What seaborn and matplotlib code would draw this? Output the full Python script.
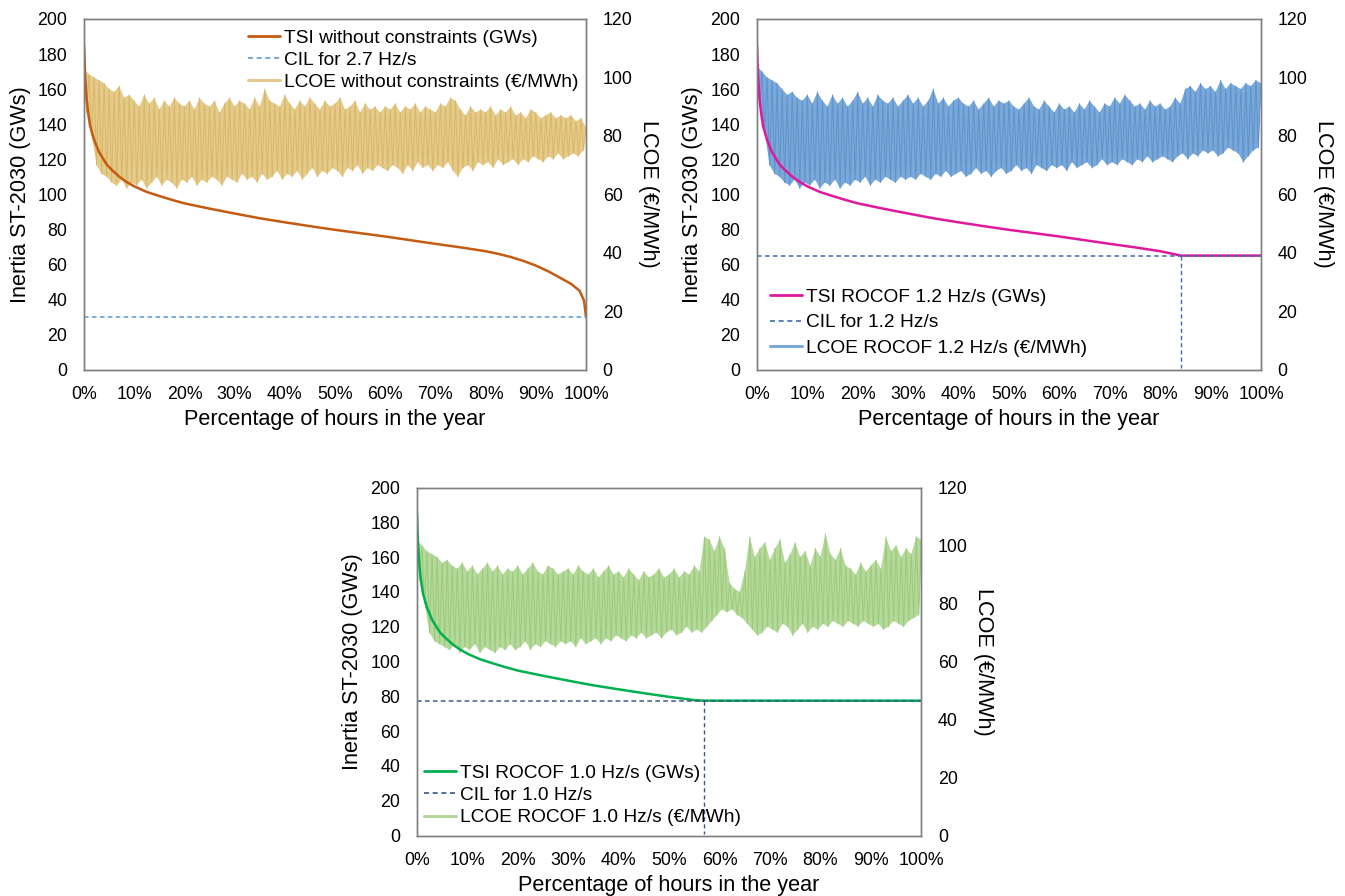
import matplotlib
matplotlib.use("Agg")
import matplotlib.pyplot as plt
from matplotlib.lines import Line2D
from matplotlib.ticker import FuncFormatter, MultipleLocator
import seaborn as sns

# ---------------- data ----------------
# TSI duration curves (GWs), x in % of hours
pct_tsi1 = [0, 0.2, 0.5, 0.8, 1.2, 2, 3, 4.5, 5.5, 7.2, 8.5, 10, 12.5, 15, 17.5, 20, 25, 30, 35, 40,
            45, 50, 55, 60, 65, 70, 75, 77.5, 80, 82.5, 85, 87.5, 90, 92.5, 94.6, 97, 98.7, 99.6, 100]
tsi1 = [185, 168, 155, 147, 139, 131, 124, 117, 114, 109.6, 107, 104.5, 101.3, 99, 96.8, 94.8, 91.8, 89, 86.3, 84,
        81.8, 79.7, 77.8, 75.9, 73.8, 71.7, 69.7, 68.6, 67.5, 66, 64.2, 62, 59.3, 56, 52.7, 48.9, 45, 39.4, 30]

pct_tsi2 = [0, 0.2, 0.5, 0.8, 1.2, 2, 3, 4.5, 5.5, 7.2, 8.5, 10, 12.5, 15, 17.5, 20, 25, 30, 35, 40,
            45, 50, 55, 60, 65, 70, 75, 77.5, 80, 82.5, 84.1, 100]
tsi2 = [185, 168, 155, 147, 139, 131, 124, 117, 114, 109.6, 107, 104.5, 101.3, 99, 96.8, 94.8, 91.8, 89, 86.3, 84,
        81.8, 79.7, 77.8, 75.9, 73.8, 71.7, 69.7, 68.6, 67.5, 66, 65, 65]

pct_tsi3 = [0, 0.2, 0.5, 0.8, 1.2, 2, 3, 4.5, 5.5, 7.2, 8.5, 10, 12.5, 15, 17.5, 20, 25, 30, 35, 40,
            45, 50, 55, 56.9, 100]
tsi3 = [185, 168, 155, 147, 139, 131, 124, 117, 114, 109.6, 107, 104.5, 101.3, 99, 96.8, 94.8, 91.8, 89, 86.3, 84,
        81.8, 79.7, 77.8, 77.5, 77.5]

# critical inertia levels (GWs) and where the TSI hits them (%)
cil1, cil2, cil3 = 30, 65, 77.5
cil2_hit, cil3_hit = 84.1, 56.9

# LCOE (EUR/MWh): peaks at each whole %, troughs half-way between
pct_hi = list(range(0, 101))
pct_lo = [i + 0.5 for i in range(100)]

lcoe1_hi = [103, 101, 100, 99, 98, 96, 95, 97, 93, 94,
            92, 90, 94, 91, 93, 89, 92, 90, 93, 91,
            90, 92, 89, 93, 91, 90, 92, 88, 91, 93,
            90, 92, 91, 89, 93, 90, 96, 92, 91, 90,
            94, 91, 89, 92, 90, 93, 91, 89, 92, 90,
            91, 93, 89, 90, 92, 88, 91, 89, 90, 88,
            90, 89, 91, 88, 90, 89, 91, 88, 90, 89,
            88, 91, 90, 93, 92, 89, 87, 90, 88, 89,
            88, 90, 87, 89, 88, 90, 87, 88, 86, 89,
            88, 86, 87, 88, 86, 87, 86, 87, 85, 86,
            83]
lcoe1_lo = [88, 80, 70, 67, 66, 64, 63, 65, 62, 64,
            63, 65, 62, 64, 66, 63, 65, 64, 62, 65,
            64, 66, 63, 65, 64, 66, 65, 63, 66, 65,
            64, 67, 65, 66, 64, 67, 65, 66, 68, 65,
            67, 66, 68, 65, 67, 69, 66, 68, 67, 69,
            68, 66, 69, 68, 70, 67, 69, 68, 70, 69,
            68, 70, 69, 67, 70, 68, 71, 69, 70, 68,
            70, 69, 71, 68, 66, 69, 70, 68, 71, 70,
            71, 69, 72, 70, 71, 72, 70, 72, 71, 73,
            72, 71, 73, 72, 74, 72, 73, 74, 73, 75]

lcoe2_hi = [104, 102, 100, 99, 98, 96, 94, 95, 93, 92,
            94, 91, 95, 92, 90, 94, 91, 93, 90, 92,
            95, 91, 93, 90, 94, 92, 91, 93, 90, 92,
            94, 91, 93, 90, 92, 96, 91, 93, 90, 92,
            93, 91, 90, 92, 89, 91, 93, 90, 92, 91,
            92, 90, 89, 91, 93, 90, 89, 92, 90, 88,
            91, 89, 90, 88, 91, 89, 92, 90, 88, 91,
            90, 93, 91, 94, 92, 90, 91, 89, 92, 90,
            91, 89, 90, 93, 91, 96, 97, 95, 98, 96,
            97, 95, 99, 96, 98, 97, 96, 98, 97, 99,
            98]
lcoe2_lo = [90, 82, 70, 67, 66, 64, 63, 65, 62, 64,
            63, 65, 62, 64, 63, 65, 62, 64, 63, 65,
            64, 66, 63, 65, 64, 66, 65, 64, 66, 65,
            66, 65, 67, 66, 65, 67, 66, 68, 66, 67,
            68, 66, 67, 69, 67, 68, 66, 68, 69, 67,
            68, 70, 68, 69, 67, 70, 69, 68, 70, 69,
            70, 68, 71, 69, 70, 71, 69, 70, 72, 70,
            71, 70, 72, 71, 70, 72, 71, 73, 71, 72,
            73, 72, 71, 73, 74, 72, 74, 73, 75, 74,
            75, 73, 74, 76, 75, 74, 71, 73, 75, 76]

lcoe3_hi = [102, 100, 98, 97, 96, 94, 95, 93, 92, 94,
            91, 93, 90, 92, 94, 91, 93, 90, 92, 91,
            93, 90, 92, 94, 91, 90, 93, 92, 90, 91,
            92, 90, 93, 91, 90, 92, 89, 91, 93, 90,
            91, 89, 92, 90, 88, 91, 89, 90, 92, 89,
            90, 92, 89, 91, 90, 93, 91, 103, 102, 98,
            103, 99, 87, 85, 84, 91, 103, 96, 99, 101,
            95, 99, 102, 94, 97, 101, 96, 98, 93, 99,
            96, 104, 97, 95, 99, 93, 92, 90, 94, 91,
            93, 95, 92, 103, 98, 100, 96, 99, 97, 103,
            102]
lcoe3_lo = [88, 80, 70, 67, 66, 65, 64, 66, 63, 65,
            64, 66, 63, 65, 64, 63, 65, 64, 66, 64,
            65, 67, 64, 66, 65, 67, 66, 65, 67, 66,
            67, 65, 68, 66, 67, 68, 66, 68, 67, 69,
            68, 67, 69, 68, 70, 68, 69, 70, 68, 70,
            71, 69, 70, 72, 70, 71, 70, 72, 74, 76,
            78, 77, 78, 76, 75, 73, 71, 69, 70, 72,
            71, 70, 73, 72, 69, 71, 73, 70, 72, 71,
            73, 72, 74, 73, 72, 74, 73, 72, 74, 73,
            72, 73, 71, 72, 74, 73, 72, 74, 75, 76]

# ---------------- style ----------------
sns.set_theme(style="white")
plt.rcParams["font.family"] = ["Liberation Sans", "DejaVu Sans"]
plt.rcParams["text.color"] = "black"

BG = "#F5F7FB"
EDGE = "#7F7F7F"
TICK_FS = 12.8
LABEL_FS = 15.6
LEG_FS = 13.8

fig = plt.figure(figsize=(13.45, 8.96), dpi=100)


def draw_panel(rect, pct_tsi, tsi, tsi_color, tsi_label,
               cil, cil_color, cil_label, cil_hit,
               hi, lo, band_color, stroke_color, lcoe_label,
               leg_anchor, leg_spacing):
    ax = fig.add_axes(rect)
    ax2 = ax.twinx()
    ax2.set_zorder(1)
    ax.set_zorder(2)
    ax.patch.set_visible(False)
    ax2.set_facecolor(BG)

    # LCOE band: polygon of peaks and troughs, plus the zigzag between them
    ax2.fill(pct_hi + pct_lo[::-1], hi + lo[::-1], color=band_color, lw=0)
    zx, zy = [], []
    for i in range(len(lo)):
        zx += [pct_hi[i], pct_lo[i]]
        zy += [hi[i], lo[i]]
    zx.append(pct_hi[-1])
    zy.append(hi[-1])
    sns.lineplot(x=zx, y=zy, ax=ax2, color=stroke_color, lw=0.7, sort=False, estimator=None)

    # TSI curve
    sns.lineplot(x=pct_tsi, y=tsi, ax=ax, color=tsi_color, lw=1.8, sort=False, estimator=None)
    # CIL
    dash = (0, (3, 2.2))
    sns.lineplot(x=[0, 100], y=[cil, cil], ax=ax, color=cil_color, lw=1.1,
                 linestyle=dash, sort=False, estimator=None)
    if cil_hit is not None:
        sns.lineplot(x=[cil_hit, cil_hit], y=[cil, 1], ax=ax, color=cil_color, lw=1.0,
                     linestyle=dash, sort=False, estimator=None)

    ax.set_xlim(0, 100)
    ax.set_ylim(0, 200)
    ax2.set_ylim(0, 120)
    ax.xaxis.set_major_locator(MultipleLocator(10))
    ax.xaxis.set_major_formatter(FuncFormatter(lambda v, p: f"{v:.0f}%"))
    ax.yaxis.set_major_locator(MultipleLocator(20))
    ax2.yaxis.set_major_locator(MultipleLocator(20))

    for a in (ax, ax2):
        a.tick_params(length=0, pad=12, labelsize=TICK_FS, colors="black")
        for s in a.spines.values():
            s.set_color(EDGE)
            s.set_linewidth(1.0)

    ax.set_xlabel("Percentage of hours in the year", fontsize=LABEL_FS, labelpad=4, color="black")
    ax.set_ylabel("Inertia ST-2030 (GWs)", fontsize=LABEL_FS, labelpad=5, color="black")
    ax2.set_ylabel("LCOE (€/MWh)", fontsize=LABEL_FS, rotation=270, va="bottom", labelpad=4, color="black")

    handles = [Line2D([], [], color=tsi_color, lw=2),
               Line2D([], [], color=cil_color, lw=1.2, linestyle=dash),
               Line2D([], [], color=band_color, lw=2.2)]
    labels = [tsi_label, cil_label, lcoe_label]
    leg = ax.legend(handles, labels, loc="upper left", bbox_to_anchor=leg_anchor, frameon=False,
                    fontsize=LEG_FS, handlelength=1.67, handletextpad=0.2, labelspacing=leg_spacing,
                    borderpad=0, borderaxespad=0)
    for t in leg.get_texts():
        t.set_color("black")
    return ax, ax2


draw_panel([0.0625, 0.5876, 0.3732, 0.3912], pct_tsi1, tsi1, "#C55A11", "TSI without constraints (GWs)",
           cil1, "#5B9BD5", "CIL for 2.7 Hz/s", None,
           lcoe1_hi, lcoe1_lo, "#E4CB8B", "#DAB766", "LCOE without constraints (€/MWh)",
           (0.327, 0.97), 0.23)

draw_panel([0.5628, 0.5876, 0.3747, 0.3912], pct_tsi2, tsi2, "#E0189B", "TSI ROCOF 1.2 Hz/s (GWs)",
           cil2, "#3D6EA8", "CIL for 1.2 Hz/s", cil2_hit,
           lcoe2_hi, lcoe2_lo, "#7AA8D8", "#5E93CD", "LCOE ROCOF 1.2 Hz/s (€/MWh)",
           (0.026, 0.232), 0.43)

draw_panel([0.3100, 0.0675, 0.3750, 0.3884], pct_tsi3, tsi3, "#00B050", "TSI ROCOF 1.0 Hz/s (GWs)",
           cil3, "#3A5A8A", "CIL for 1.0 Hz/s", cil3_hit,
           lcoe3_hi, lcoe3_lo, "#B5D89B", "#9CCB7B", "LCOE ROCOF 1.0 Hz/s (€/MWh)",
           (0.014, 0.205), 0.26)

fig.savefig("out.png", dpi=100)
